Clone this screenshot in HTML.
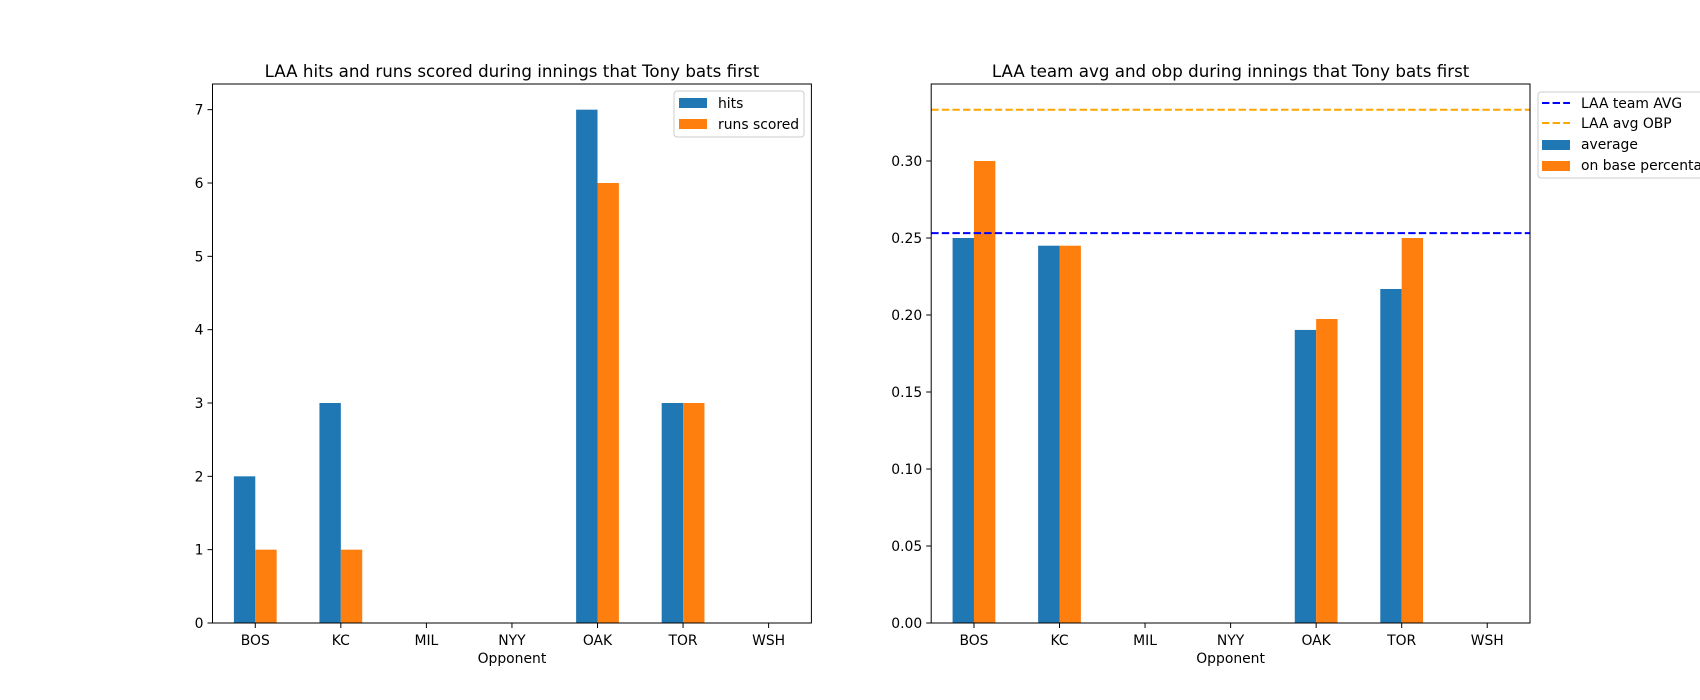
<!DOCTYPE html>
<html><head><meta charset="utf-8"><style>
body{margin:0;background:#fff;}
svg{display:block;font-family:"DejaVu Sans","Liberation Sans",sans-serif;}
</style></head><body>
<svg id="fig" width="1700" height="700" xmlns="http://www.w3.org/2000/svg"></svg>
<script>
const categories = ["BOS","KC","MIL","NYY","OAK","TOR","WSH"];
const hits = [2,3,0,0,7,3,0];
const runs = [1,1,0,0,6,3,0];
const leftTicks = [0,1,2,3,4,5,6,7];
const avgVals = [0.25,0.245,0,0,0.1903,0.2169,0];
const obpVals = [0.30,0.245,0,0,0.1974,0.25,0];
const rightTicks = [0,0.05,0.10,0.15,0.20,0.25,0.30];
const teamAvg = 0.2532;
const teamObp = 0.3333;

const NS="http://www.w3.org/2000/svg";
const svg=document.getElementById('fig');
function mk(tag,attrs,parent){const e=document.createElementNS(NS,tag);for(const k in attrs)e.setAttribute(k,attrs[k]);(parent||svg).appendChild(e);return e;}
const TOP=84,BOT=623;
const DASH='7.4,3.2';
function drawAxes(x0,x1,ymax,ticks,fmt,s1,s2,title,n1,n2,pre){
  const g=mk('g',{});
  
  
  const xs=i=>x0+(i+0.5)/categories.length*(x1-x0);
  const bw=0.25/categories.length*(x1-x0);
  const ys=v=>BOT-v/ymax*(BOT-TOP);
  categories.forEach((c,i)=>{
    const b1=mk('rect',{x:xs(i)-bw,y:ys(s1[i]),width:bw,height:BOT-ys(s1[i]),fill:'#1f77b4'},g);
    
    
    const b2=mk('rect',{x:xs(i),y:ys(s2[i]),width:bw,height:BOT-ys(s2[i]),fill:'#ff7f0e'},g);
    
    
    mk('line',{x1:xs(i),x2:xs(i),y1:BOT,y2:BOT+5,stroke:'#000','stroke-width':1},g);
    const t=mk('text',{x:xs(i),y:BOT+22,'text-anchor':'middle','font-size':'13.9px'},g);
    t.textContent=c;
    
    
  });
  ticks.forEach(v=>{
    mk('line',{x1:x0-5,x2:x0,y1:ys(v),y2:ys(v),stroke:'#000','stroke-width':1},g);
    const t=mk('text',{x:x0-9,y:ys(v)+5,'text-anchor':'end','font-size':'13.9px'},g);
    t.textContent=fmt(v);
    
    
  });
  const xl=mk('text',{x:(x0+x1)/2,y:BOT+40,'text-anchor':'middle','font-size':'13.9px'},g);
  xl.textContent='Opponent';
  
  
  const tt=mk('text',{x:(x0+x1)/2,y:TOP-7,'text-anchor':'middle','font-size':'16.7px'},g);
  tt.textContent=title;
  
  
  return {g,ys};
}
function frame(x0,x1){mk('rect',{x:x0,y:TOP,width:x1-x0,height:BOT-TOP,fill:'none',stroke:'#000','stroke-width':1});}

const L=drawAxes(212.5,811.4,7.35,leftTicks,v=>String(v),hits,runs,'LAA hits and runs scored during innings that Tony bats first','hits','runs scored','left');
frame(212.5,811.4);
const R=drawAxes(931.2,1530,0.35,rightTicks,v=>v.toFixed(2),avgVals,obpVals,'LAA team avg and obp during innings that Tony bats first','average','obp','right');
const la=mk('line',{x1:931.2,x2:1530,y1:R.ys(teamAvg),y2:R.ys(teamAvg),stroke:'#0000ff','stroke-width':2,'stroke-dasharray':DASH});


const lo=mk('line',{x1:931.2,x2:1530,y1:R.ys(teamObp),y2:R.ys(teamObp),stroke:'#ffa500','stroke-width':2,'stroke-dasharray':DASH});


frame(931.2,1530);

// left legend
const lg=mk('g',{});


mk('rect',{x:674,y:91,width:130,height:46,rx:3,fill:'#fff',stroke:'#ccc'},lg);
mk('rect',{x:679,y:98,width:28,height:10,fill:'#1f77b4'},lg);
mk('rect',{x:679,y:119,width:28,height:10,fill:'#ff7f0e'},lg);
let t=mk('text',{x:718,y:108,'font-size':'13.9px'},lg);t.textContent='hits';
t=mk('text',{x:718,y:129,'font-size':'13.9px'},lg);t.textContent='runs scored';

// right legend
const rg=mk('g',{});


mk('rect',{x:1538,y:92,width:180,height:86,rx:3,fill:'#fff',stroke:'#ccc'},rg);
mk('line',{x1:1542,x2:1570,y1:103,y2:103,stroke:'#0000ff','stroke-width':2,'stroke-dasharray':DASH},rg);
mk('line',{x1:1542,x2:1570,y1:123,y2:123,stroke:'#ffa500','stroke-width':2,'stroke-dasharray':DASH},rg);
mk('rect',{x:1542,y:140,width:28,height:10,fill:'#1f77b4'},rg);
mk('rect',{x:1542,y:161,width:28,height:10,fill:'#ff7f0e'},rg);
t=mk('text',{x:1581,y:108,'font-size':'13.9px'},rg);t.textContent='LAA team AVG';
t=mk('text',{x:1581,y:128,'font-size':'13.9px'},rg);t.textContent='LAA avg OBP';
t=mk('text',{x:1581,y:149,'font-size':'13.9px'},rg);t.textContent='average';
t=mk('text',{x:1581,y:170,'font-size':'13.9px'},rg);t.textContent='on base percentage';
</script>
</body></html>
